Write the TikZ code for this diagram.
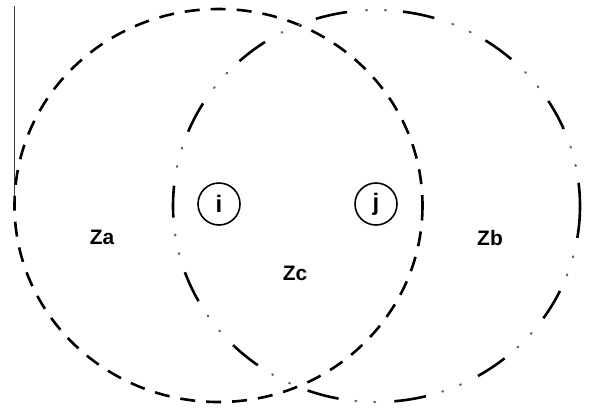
\documentclass[tikz,border=0pt]{standalone}
\usepackage{fontspec}
\setmainfont{Liberation Sans}
\begin{document}
\begin{tikzpicture}[x=1bp, y=-1bp,
    every node/.style={font=\fontsize{21}{24}\selectfont\bfseries},
    zonea/.style={line width=2.6bp, dash pattern=on 15bp off 11bp},
    zoneb/.style={line width=2.6bp, dash pattern=on 32bp off 56bp},
    zonebdots/.style={line width=2.2bp, black!60, line cap=round,
        dash pattern=on 1bp off 18bp on 1bp off 68bp, dash phase=37bp},
    cell/.style={draw, circle, line width=1.6bp, minimum size=42bp, inner sep=0pt,
        font=\fontsize{24}{26}\selectfont\bfseries}]
    \useasboundingbox (0,0) rectangle (590,409);

    \coordinate (ca) at (218.5,205.5);
    \coordinate (cb) at (376.5,206);

    \draw[line width=0.8bp, black!75] (14,6) -- (14,204);

    \draw[zonea] (ca) ellipse [x radius=204, y radius=196.5];
    \draw[zoneb] (cb) ellipse [x radius=203.5, y radius=196];
    \draw[zonebdots] (cb) ellipse [x radius=203.5, y radius=196];

    \node[cell] (i) at (219,204) {i};
    \node[cell] (j) at (376,204) {j};

    \node (za) at (102,237) {Za};
    \node (zc) at (295,273.5) {Zc};
    \node (zb) at (490,238) {Zb};
\end{tikzpicture}
\end{document}
